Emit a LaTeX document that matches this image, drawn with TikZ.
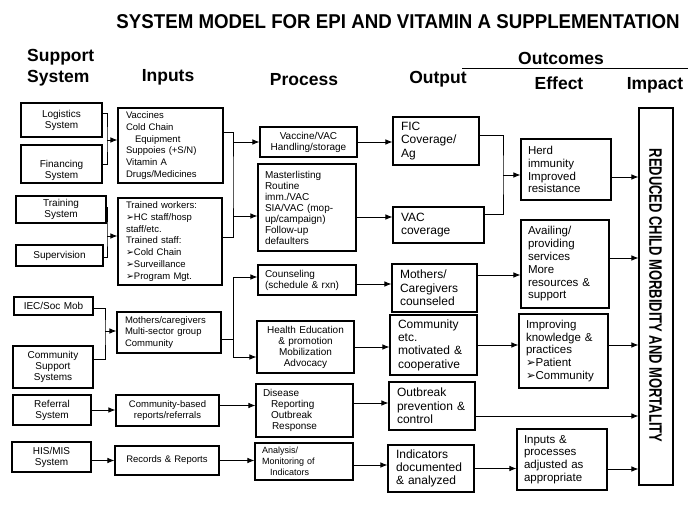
\documentclass[tikz,border=0pt]{standalone}
\usepackage{fontspec}
\setmainfont{Liberation Sans}
\newfontfamily\symfont{DejaVu Sans}
\usepackage{graphicx}
\usetikzlibrary{arrows.meta, positioning}
\newcommand{\arrbul}{{\symfont ➢}}

\begin{document}
\begin{tikzpicture}[x=1pt, y=-1pt,
    cell/.style={draw, line width=1.1pt, inner ysep=1pt, align=left},
    supcell/.style={cell, inner xsep=4pt, align=center, font=\fontsize{10}{11}\selectfont},
    incell/.style={cell, inner xsep=8pt, font=\fontsize{9.5}{11.8}\selectfont},
    proccell/.style={cell, inner xsep=7pt, font=\fontsize{10}{11}\selectfont},
    outcell/.style={cell, inner xsep=8pt, font=\fontsize{12}{13.3}\selectfont},
    effcell/.style={cell, inner xsep=7pt, font=\fontsize{11.5}{12.8}\selectfont},
    colhead/.style={inner sep=0pt, font=\fontsize{17.5}{21}\selectfont\bfseries},
    link/.style={line width=0.8pt},
    flow/.style={link, -{Latex[length=7pt, width=5.5pt]}}
]
    \useasboundingbox (0,0) rectangle (696,505);

    \node[inner sep=0pt, font=\fontsize{20}{24}\selectfont\bfseries] (ttl) at (398,22) {\scalebox{0.935}[1]{SYSTEM MODEL FOR EPI AND VITAMIN A SUPPLEMENTATION}};
    \node[colhead, align=left, anchor=west] (hsup) at (27,67.5) {Support\\System};
    \node[colhead] (hin) at (168,77) {Inputs};
    \node[colhead] (hproc) at (304,80) {Process};
    \node[colhead] (hout) at (438,79) {Output};
    \node[colhead] (hoc) at (561,58) {Outcomes};
    \node[colhead] (heff) at (559,83) {Effect};
    \node[colhead] (himp) at (655,85) {Impact};
    \draw[link] (462,68) -- (688,68);

    \node[supcell, text width=73pt, minimum height=34pt] (logi) at (61.5,120) {Logistics\\System};
    \node[supcell, text width=73pt, minimum height=38pt] (fin) at (61.5,164) {\rule{0pt}{21pt}Financing\\System};
    \node[supcell, text width=82pt, minimum height=27pt] (train) at (61,209.5) {Training\\System};
    \node[supcell, text width=79pt, minimum height=21pt] (superv) at (59.5,255.5) {Supervision};
    \node[supcell, text width=71pt, minimum height=18pt] (iec) at (53.5,306) {IEC/Soc Mob};
    \node[supcell, text width=72pt, minimum height=42pt] (comm) at (53,367) {Community\\Support\\Systems};
    \node[supcell, text width=70pt, minimum height=30pt] (refer) at (52,410) {Referral\\System};
    \node[supcell, text width=71pt, minimum height=30pt] (his) at (51.5,457) {HIS/MIS\\System};

    \node[incell, text width=89pt, minimum height=75pt] (vacc) at (170.5,145.5) {Vaccines\\Cold Chain\\\hspace*{9pt}Equipment\\Suppoies (+S/N)\\Vitamin A\\Drugs/Medicines};
    \node[incell, text width=88pt, minimum height=87pt] (trained) at (170,241.5) {Trained workers:\\\arrbul HC staff/hosp\\staff/etc.\\Trained staff:\\\arrbul Cold Chain\\\arrbul Surveillance\\\arrbul Program Mgt.};
    \node[incell, text width=88pt, minimum height=41pt] (mothers) at (169,332.5) {Mothers/caregivers\\Multi-sector group\\Community};
    \node[incell, align=center, text width=87pt, minimum height=31pt] (commrep) at (167.5,410.5) {Community-based\\reports/referrals};
    \node[incell, align=center, text width=88pt, minimum height=29pt] (records) at (167,460.5) {Records \& Reports};

    \node[proccell, align=center, text width=83pt, minimum height=30pt] (handling) at (308.5,142) {Vaccine/VAC\\Handling/storage};
    \node[proccell, text width=84pt, minimum height=87pt] (master) at (307,207.5) {Masterlisting\\Routine\\imm./VAC\\SIA/VAC (mop-\\up/campaign)\\Follow-up\\defaulters};
    \node[proccell, text width=84pt, minimum height=30pt] (couns) at (307,280) {Counseling\\(schedule \& rxn)};
    \node[proccell, align=center, text width=83pt, minimum height=52pt] (healthed) at (305.5,347) {Health Education\\\& promotion\\Mobilization\\Advocacy};
    \node[proccell, text width=83pt, minimum height=53pt] (disease) at (304.5,410.5) {Disease\\\hspace*{8pt}Reporting\\\hspace*{8pt}Outbreak\\\hspace*{9pt}Response};
    \node[proccell, text width=84pt, minimum height=37pt, font=\fontsize{9}{11}\selectfont] (analysis) at (304,461.5) {Analysis/\\Monitoring of\\\hspace*{8pt}Indicators};

    \node[outcell, text width=70pt, minimum height=48pt] (fic) at (436,141) {FIC\\Coverage/\\Ag};
    \node[outcell, text width=75pt, minimum height=36pt] (vaccov) at (438.5,225) {VAC\\coverage};
    \node[outcell, text width=69pt, minimum height=48pt] (mcouns) at (434.5,288) {Mothers/\\Caregivers\\counseled};
    \node[outcell, text width=71pt, minimum height=60pt] (commot) at (433.5,345) {Community\\etc.\\motivated \&\\cooperative};
    \node[outcell, text width=70pt, minimum height=48pt] (outbreak) at (432,406) {Outbreak\\prevention \&\\control};
    \node[outcell, text width=70pt, minimum height=47pt] (indic) at (431,468.5) {Indicators\\documented\\\& analyzed};

    \node[effcell, text width=76pt, minimum height=61pt] (herd) at (566,169.5) {Herd\\immunity\\Improved\\resistance};
    \node[effcell, text width=74pt, minimum height=88pt] (avail) at (565,264) {Availing/\\providing\\services\\More\\resources \&\\support};
    \node[effcell, text width=75pt, minimum height=74pt] (improv) at (563.5,351) {Improving\\knowledge \&\\practices\\\arrbul Patient\\\arrbul Community};
    \node[effcell, text width=76pt, minimum height=61pt] (adjust) at (562,459.5) {Inputs \&\\processes\\adjusted as\\appropriate};

    \node[draw, line width=1.1pt, minimum width=34pt, minimum height=377pt, inner sep=0pt] (impact) at (656,296.5) {};
    \node[rotate=-90, inner sep=0pt, font=\fontsize{18}{20}\selectfont\bfseries] (impacttxt) at (655.5,295.5) {\scalebox{0.72}[1]{REDUCED CHILD MORBIDITY AND MORTALITY}};

    \coordinate (jlog) at (107,140);
    \draw[link] ([yshift=7pt]logi.east) -| (jlog) |- (fin.east);
    \draw[flow] (jlog) -- (jlog -| vacc.west);
    \coordinate (jtrn) at (107,236);
    \draw[link] ([yshift=2.5pt]train.east) -| (jtrn) |- ([yshift=-1.5pt]superv.east);
    \draw[flow] (jtrn) -- (jtrn -| trained.west);
    \coordinate (jiec) at (105,331);
    \draw[link] ([yshift=-2pt]iec.east) -| (jiec) |- ([yshift=8pt]comm.east);
    \draw[flow] (jiec) -- (jiec -| mothers.west);
    \draw[flow] (refer.east) -- (refer.east -| commrep.west);
    \draw[flow] (records.west -| his.east) -- (records.west);

    \coordinate (jvac) at (233,180);
    \draw[link] ([yshift=13.5pt]vacc.east) -| (jvac) |- ([yshift=4.5pt]trained.east);
    \draw[flow] (jvac |- handling.west) -- (handling.west);
    \draw[flow] ([yshift=-8.5pt]master.west -| jvac) -- ([yshift=-8.5pt]master.west);
    \coordinate (jmot) at (233,339);
    \draw[link] (mothers.east |- jmot) -- (jmot);
    \draw[flow] (jmot) |- ([yshift=3pt]couns.west);
    \draw[flow] (jmot) |- ([yshift=-10pt]healthed.west);
    \draw[flow] ([yshift=5pt]commrep.east) -- ([yshift=5pt]commrep.east -| disease.west);
    \draw[flow] (records.east) -- (records.east -| analysis.west);

    \draw[flow] (handling.east) -- (handling.east -| fic.west);
    \draw[flow] ([yshift=-9.5pt]master.east) -- ([yshift=-9.5pt]master.east -| vaccov.west);
    \draw[flow] ([yshift=-4pt]couns.east) -- ([yshift=-4pt]couns.east -| mcouns.west);
    \draw[flow] (healthed.east) -- (healthed.east -| commot.west);
    \draw[flow] ([yshift=7.5pt]disease.east) -- ([yshift=7.5pt]disease.east -| outbreak.west);
    \draw[flow] ([yshift=-3.5pt]analysis.east) -- ([yshift=-3.5pt]analysis.east -| indic.west);

    \coordinate (jfic) at (503,175);
    \draw[link] ([yshift=6pt]fic.east) -| (jfic) |- ([yshift=11pt]vaccov.east);
    \draw[flow] (jfic) -- (jfic -| herd.west);
    \draw[flow] ([yshift=13pt]mcouns.east) -- ([yshift=13pt]mcouns.east -| avail.west);
    \draw[flow] (commot.east) -- (commot.east -| improv.west);
    \draw[flow] ([yshift=-10pt]outbreak.east) -- ([yshift=-10pt]outbreak.east -| impact.west);
    \draw[flow] (indic.east) -- (indic.east -| adjust.west);

    \draw[flow] ([yshift=-7.5pt]herd.east) -- ([yshift=-7.5pt]herd.east -| impact.west);
    \draw[flow] ([yshift=6pt]avail.east) -- ([yshift=6pt]avail.east -| impact.west);
    \draw[flow] ([yshift=6pt]improv.east) -- ([yshift=6pt]improv.east -| impact.west);
    \draw[flow] ([yshift=-9.5pt]adjust.east) -- ([yshift=-9.5pt]adjust.east -| impact.west);
\end{tikzpicture}
\end{document}
